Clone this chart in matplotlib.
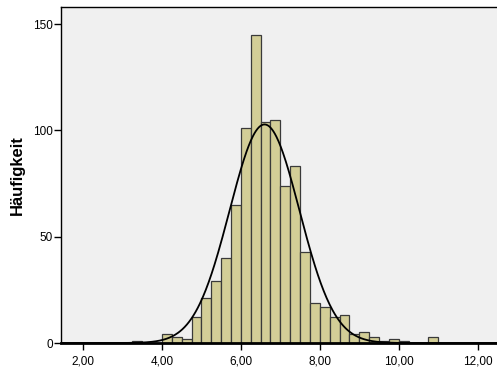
import numpy as np
import matplotlib
matplotlib.use("Agg")
import matplotlib.pyplot as plt
from matplotlib.ticker import FixedLocator, FuncFormatter

# Histogram bins (left edges, width 0.25) and counts
bin_left = [3.25, 3.50, 3.75, 4.00, 4.25, 4.50, 4.75, 5.00, 5.25, 5.50, 5.75,
            6.00, 6.25, 6.50, 6.75, 7.00, 7.25, 7.50, 7.75, 8.00, 8.25, 8.50,
            8.75, 9.00, 9.25, 9.50, 9.75, 10.00, 10.25, 10.50, 10.75]
counts = [1, 0, 0, 4, 3, 2, 12, 21, 29, 40, 65,
          101, 145, 104, 105, 74, 83, 43, 19, 17, 12, 13,
          4, 5, 3, 1, 2, 1, 0, 0, 3]
bin_width = 0.25

# Normal curve parameters
curve_mean = 6.6
curve_sd = 0.885
curve_n = sum(counts)

x_ticks = [2, 4, 6, 8, 10, 12]
y_ticks = [0, 50, 100, 150]
y_label = "Häufigkeit"

plt.rcParams['font.family'] = ['Liberation Sans', 'DejaVu Sans']

fig = plt.figure(figsize=(4.97, 3.69), dpi=100)
ax = fig.add_axes([61/497, 26/369, 436/497, 336/369])
ax.set_facecolor('#f0f0f0')

ax.bar(bin_left, counts, width=bin_width, align='edge', color='#d3ce97',
       edgecolor='#3a3a3a', linewidth=0.9, zorder=2)

xs = np.linspace(1.44, 12.49, 600)
ys = curve_n * bin_width / (curve_sd * np.sqrt(2 * np.pi)) * np.exp(-0.5 * ((xs - curve_mean) / curve_sd) ** 2)
ax.plot(xs, ys, color='black', linewidth=1.3, zorder=3)

ax.set_xlim(1.443, 12.49)
ax.set_ylim(0, 158)
ax.xaxis.set_major_locator(FixedLocator(x_ticks))
ax.yaxis.set_major_locator(FixedLocator(y_ticks))
ax.xaxis.set_major_formatter(FuncFormatter(lambda v, p: f"{v:.2f}".replace('.', ',')))
ax.yaxis.set_major_formatter(FuncFormatter(lambda v, p: f"{int(v)}"))
ax.tick_params(axis='both', labelsize=8.5, width=1, direction='out', color='black')
ax.tick_params(axis='x', length=5, pad=4)
ax.tick_params(axis='y', length=5, pad=1)

for s in ['top', 'left']:
    ax.spines[s].set_linewidth(1)
    ax.spines[s].set_color('black')
ax.spines['bottom'].set_linewidth(2)
ax.spines['bottom'].set_color('black')
ax.spines['right'].set_visible(False)

fig.text(17.5/497, 1 - 175/369, y_label, fontsize=12, fontweight='bold',
         rotation=90, ha='center', va='center')

fig.savefig('out.png', dpi=100)
